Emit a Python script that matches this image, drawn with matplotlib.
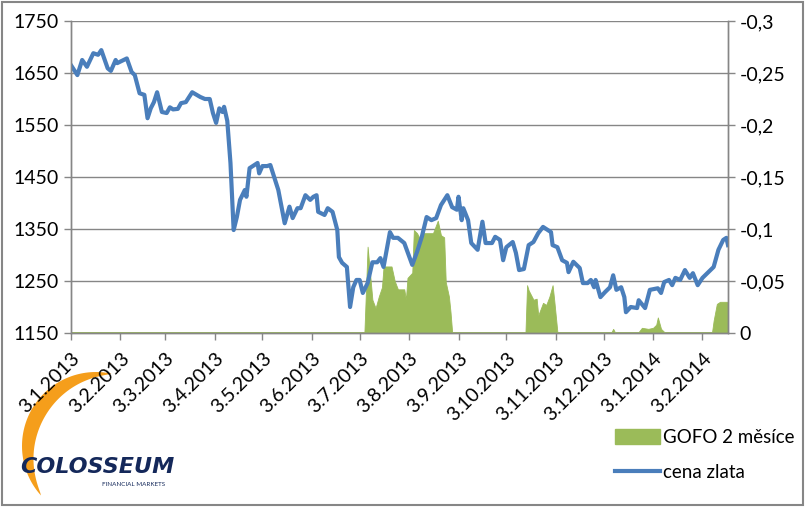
import matplotlib
matplotlib.use("Agg")
import matplotlib.pyplot as plt
from matplotlib.patches import Patch, Rectangle, Polygon
from matplotlib.lines import Line2D
import numpy as np
import pandas as pd

plt.rcParams['font.family'] = ['Lato', 'DejaVu Sans']

# cena zlata (USD/oz)
gold_dates = [
    "2013-01-03", "2013-01-07", "2013-01-10", "2013-01-13", "2013-01-17", "2013-01-20",
    "2013-01-22", "2013-01-26", "2013-01-28", "2013-01-31", "2013-02-01", "2013-02-07",
    "2013-02-10", "2013-02-12", "2013-02-15", "2013-02-18", "2013-02-20", "2013-02-22",
    "2013-02-24", "2013-02-26", "2013-03-01", "2013-03-04", "2013-03-06", "2013-03-08",
    "2013-03-11", "2013-03-13", "2013-03-16", "2013-03-20", "2013-03-25", "2013-03-28",
    "2013-03-31", "2013-04-02", "2013-04-04", "2013-04-06", "2013-04-08", "2013-04-09",
    "2013-04-11", "2013-04-13", "2013-04-15", "2013-04-17", "2013-04-19", "2013-04-22",
    "2013-04-23", "2013-04-25", "2013-04-28", "2013-04-30", "2013-05-01", "2013-05-03",
    "2013-05-06", "2013-05-08", "2013-05-10", "2013-05-13", "2013-05-17", "2013-05-20",
    "2013-05-22", "2013-05-25", "2013-05-27", "2013-05-30", "2013-06-02", "2013-06-04",
    "2013-06-06", "2013-06-07", "2013-06-11", "2013-06-13", "2013-06-16", "2013-06-19",
    "2013-06-20", "2013-06-22", "2013-06-25", "2013-06-27", "2013-06-29", "2013-07-01",
    "2013-07-03", "2013-07-05", "2013-07-08", "2013-07-11", "2013-07-14", "2013-07-16",
    "2013-07-18", "2013-07-22", "2013-07-24", "2013-07-27", "2013-07-31", "2013-08-02",
    "2013-08-05", "2013-08-08", "2013-08-11", "2013-08-14", "2013-08-17", "2013-08-20",
    "2013-08-23", "2013-08-27", "2013-08-30", "2013-09-02", "2013-09-03", "2013-09-05",
    "2013-09-06", "2013-09-09", "2013-09-11", "2013-09-15", "2013-09-18", "2013-09-20",
    "2013-09-24", "2013-09-26", "2013-09-29", "2013-10-01", "2013-10-03", "2013-10-07",
    "2013-10-09", "2013-10-11", "2013-10-14", "2013-10-17", "2013-10-20", "2013-10-23",
    "2013-10-26", "2013-10-29", "2013-10-31", "2013-11-01", "2013-11-04", "2013-11-07",
    "2013-11-10", "2013-11-11", "2013-11-14", "2013-11-18", "2013-11-20", "2013-11-23",
    "2013-11-25", "2013-11-27", "2013-11-28", "2013-12-01", "2013-12-04", "2013-12-07",
    "2013-12-09", "2013-12-11", "2013-12-14", "2013-12-16", "2013-12-17", "2013-12-20",
    "2013-12-24", "2013-12-25", "2013-12-29", "2014-01-01", "2014-01-06", "2014-01-08",
    "2014-01-10", "2014-01-13", "2014-01-15", "2014-01-17", "2014-01-20", "2014-01-23",
    "2014-01-26", "2014-01-28", "2014-01-31", "2014-02-03", "2014-02-06", "2014-02-08",
    "2014-02-10", "2014-02-13", "2014-02-16", "2014-02-18", "2014-02-19",
]
gold_price = [
    1665, 1646, 1675, 1662, 1688, 1685,
    1694, 1659, 1654, 1675, 1669, 1678,
    1652, 1646, 1611, 1608, 1563, 1582,
    1594, 1613, 1575, 1573, 1584, 1580,
    1581, 1592, 1594, 1613, 1604, 1600,
    1600, 1573, 1554, 1582, 1575, 1585,
    1558, 1477, 1348, 1373, 1406, 1425,
    1412, 1467, 1473, 1477, 1457, 1471,
    1471, 1473, 1454, 1425, 1361, 1393,
    1371, 1390, 1390, 1415, 1406, 1412,
    1415, 1383, 1377, 1390, 1383, 1348,
    1296, 1285, 1277, 1200, 1238, 1252,
    1252, 1227, 1246, 1286, 1286, 1294,
    1277, 1344, 1333, 1333, 1323, 1306,
    1281, 1306, 1335, 1373, 1367, 1371,
    1396, 1415, 1392, 1387, 1412, 1367,
    1390, 1367, 1323, 1310, 1364, 1323,
    1323, 1335, 1329, 1290, 1315, 1325,
    1304, 1271, 1273, 1319, 1325, 1342,
    1354, 1348, 1344, 1319, 1315, 1290,
    1285, 1267, 1287, 1275, 1246, 1246,
    1252, 1238, 1252, 1219, 1229, 1238,
    1261, 1233, 1238, 1219, 1190, 1200,
    1198, 1213, 1198, 1233, 1236, 1227,
    1248, 1252, 1242, 1256, 1252, 1271,
    1256, 1265, 1242, 1256, 1265, 1271,
    1277, 1310, 1329, 1333, 1319,
]

# GOFO 2 mesice (%)
gofo_dates = [
    "2013-01-03", "2013-07-06", "2013-07-08", "2013-07-11", "2013-07-13", "2013-07-15",
    "2013-07-17", "2013-07-18", "2013-07-23", "2013-07-25", "2013-07-27", "2013-07-31",
    "2013-08-01", "2013-08-02", "2013-08-05", "2013-08-06", "2013-08-08", "2013-08-10",
    "2013-08-12", "2013-08-18", "2013-08-21", "2013-08-23", "2013-08-25", "2013-08-26",
    "2013-08-28", "2013-08-29", "2013-08-30", "2013-10-15", "2013-10-16", "2013-10-17",
    "2013-10-20", "2013-10-22", "2013-10-23", "2013-10-26", "2013-10-28", "2013-10-30",
    "2013-11-01", "2013-11-02", "2013-11-04", "2013-12-08", "2013-12-09", "2013-12-10",
    "2013-12-25", "2013-12-27", "2013-12-31", "2014-01-03", "2014-01-05", "2014-01-06",
    "2014-01-08", "2014-01-10", "2014-02-09", "2014-02-10", "2014-02-12", "2014-02-14",
    "2014-02-19",
]
gofo_value = [
    -0.001, -0.001, -0.083, -0.032, -0.024, -0.035,
    -0.044, -0.064, -0.064, -0.050, -0.042, -0.042,
    -0.032, -0.053, -0.058, -0.099, -0.096, -0.090,
    -0.096, -0.096, -0.108, -0.094, -0.092, -0.049,
    -0.035, -0.020, -0.001, -0.001, -0.046, -0.041,
    -0.032, -0.033, -0.017, -0.029, -0.027, -0.035,
    -0.046, -0.032, -0.001, -0.001, -0.004, -0.001,
    -0.001, -0.005, -0.004, -0.005, -0.008, -0.015,
    -0.004, -0.001, -0.001, -0.012, -0.028, -0.030,
    -0.030,
]

left_ticks = [1150, 1250, 1350, 1450, 1550, 1650, 1750]
right_ticks = [0, -0.05, -0.1, -0.15, -0.2, -0.25, -0.3]
right_labels = ["0", "-0,05", "-0,1", "-0,15", "-0,2", "-0,25", "-0,3"]
month_ticks = pd.date_range("2013-01-03", periods=14, freq=pd.DateOffset(months=1))

grey = "#868686"
blue = "#4A7EBB"
green = "#9BBB59"

fig = plt.figure(figsize=(8.05, 5.07), dpi=100)
fig.patches.append(Rectangle((0.002, 0.003), 0.996, 0.994, transform=fig.transFigure,
                             fill=False, edgecolor=grey, linewidth=1.5))

ax = fig.add_axes([71 / 805, 1 - 333 / 507, (728 - 71) / 805, (333 - 21) / 507])
ax2 = ax.twinx()

gd = pd.to_datetime(gofo_dates)
ax2.fill_between(gd, 0, gofo_value, color=green, linewidth=0.6, edgecolor=green)
ax2.set_ylim(0, -0.3)
ax2.set_yticks(right_ticks)
ax2.set_yticklabels(right_labels)
ax2.set_axisbelow(True)
ax2.grid(axis="y", color=grey, linewidth=1.0)

ax.set_zorder(ax2.get_zorder() + 1)
ax.patch.set_visible(False)
ax.plot(pd.to_datetime(gold_dates), gold_price, color=blue, linewidth=3.0)
ax.set_ylim(1150, 1750)
ax.set_yticks(left_ticks)
ax.set_xlim(pd.Timestamp("2013-01-03"), pd.Timestamp("2014-02-19"))
ax.set_xticks(month_ticks)
ax.set_xticklabels([f"{d.day}.{d.month}.{d.year}" for d in month_ticks],
                   rotation=45, ha="right", rotation_mode="anchor")

for a in (ax, ax2):
    a.spines["top"].set_visible(False)
    for s in ("left", "right", "bottom"):
        a.spines[s].set_color(grey)
        a.spines[s].set_linewidth(1.0)
    a.tick_params(colors=grey, labelcolor="black", labelsize=14, length=5, width=1.0)
ax.tick_params(axis="x", pad=7)
ax.tick_params(axis="y", pad=4)

# legend
handles = [Patch(facecolor=green, edgecolor=green, label="GOFO 2 měsíce"),
           Line2D([], [], color=blue, linewidth=3.0, label="cena zlata")]
fig.legend(handles=handles, loc="upper left", bbox_to_anchor=(598 / 805, 1 - 412 / 507),
           frameon=False, fontsize=13.5, handlelength=2.4, handleheight=0.9,
           labelspacing=0.95, handletextpad=0.15)

# logo
lax = fig.add_axes([0, 0, 1, 1], facecolor="none")
lax.set_xlim(0, 805)
lax.set_ylim(507, 0)
lax.axis("off")
th = np.radians(np.linspace(78, 222, 80))
r_out = 74
thick = 15 * np.sin(np.pi * (th - th[0]) / (th[-1] - th[0])) ** 0.8
cx, cy = 96, 446
outer = np.column_stack([cx + r_out * np.cos(th), cy - r_out * np.sin(th)])
inner = np.column_stack([cx + (r_out - thick) * np.cos(th), cy - (r_out - thick) * np.sin(th)])[::-1]
lax.add_patch(Polygon(np.vstack([outer, inner]), closed=True, facecolor="#F59E1B", edgecolor="none"))
lax.text(97, 467, "COLOSSEUM", fontsize=16, fontweight="bold", fontstyle="italic",
         color="#14285A", ha="center", va="center", family=["DejaVu Sans"])
lax.text(134, 485, "FINANCIAL MARKETS", fontsize=4.5, color="#14285A", ha="center", va="center")

fig.savefig("out.png", dpi=100)
